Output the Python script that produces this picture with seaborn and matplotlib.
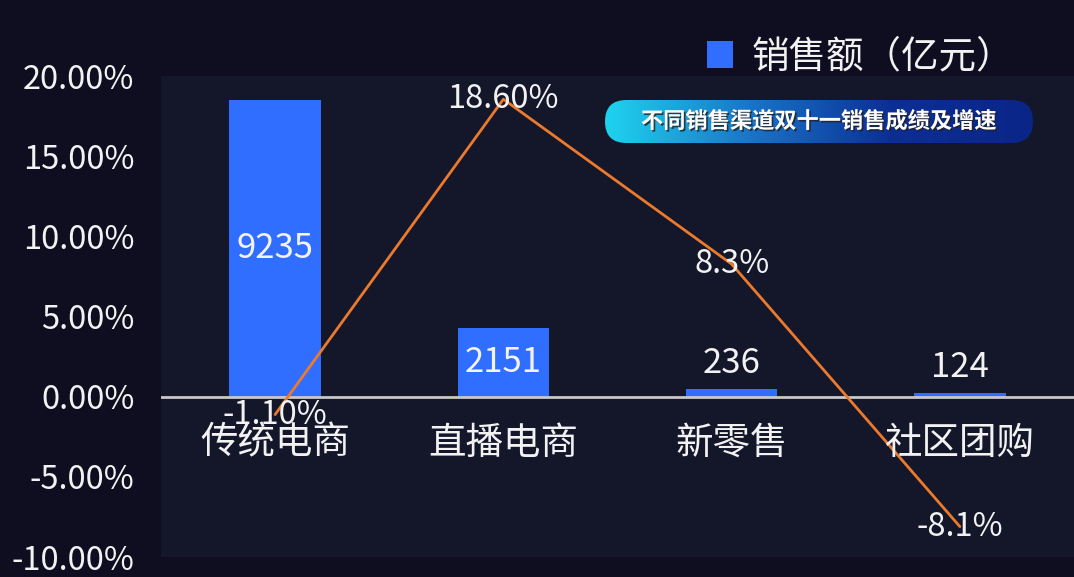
import numpy as np
import matplotlib
matplotlib.use("Agg")
import matplotlib.pyplot as plt
import matplotlib.patheffects as pe
from matplotlib.patches import FancyBboxPatch
from matplotlib.ticker import FuncFormatter
import seaborn as sns

# --- datos ---
canales = ["传统电商", "直播电商", "新零售", "社区团购"]
ventas = [9235, 2151, 236, 124]              # 销售额（亿元）
crecimiento = [-1.10, 18.60, 8.3, -8.1]      # 增速 %
etiquetas_crec = ["-1.10%", "18.60%", "8.3%", "-8.1%"]
ticks_izq = [-10, -5, 0, 5, 10, 15, 20]
titulo = "不同销售渠道双十一销售成绩及增速"
leyenda = "销售额（亿元）"

# --- colores ---
FONDO = "#0f0d20"
FONDO_AREA = "#14162a"
AZUL = "#306eff"
NARANJA = "#ec7a2c"
BLANCO = "#f2f2f2"

sns.set_style("dark")
plt.rcParams["font.family"] = ["Noto Sans CJK SC", "DejaVu Sans"]
plt.rcParams["axes.unicode_minus"] = False

W, H = 1074, 577
fig = plt.figure(figsize=(W / 100, H / 100), dpi=100, facecolor=FONDO)

# area del grafico (en pixeles de la imagen)
x0, x1, y_top, y_bot = 161, 1074, 76, 557
ax_bar = fig.add_axes([x0 / W, 1 - y_bot / H, (x1 - x0) / W, (y_bot - y_top) / H])
ax_bar.set_facecolor(FONDO_AREA)

ymin, ymax = -10, 20.05
k = 9235 / 18.56  # escala barras -> eje de porcentaje

sns.barplot(x=canales, y=ventas, ax=ax_bar, color=AZUL, width=0.4,
            saturation=1, errorbar=None, linewidth=0, edgecolor=AZUL)
ax_bar.set_ylim(ymin * k, ymax * k)
ax_bar.set_xlim(-0.5, 3.5)
ax_bar.set_yticks([])
ax_bar.set_xticks([])
ax_bar.set_xlabel("")
ax_bar.set_ylabel("")
ax_bar.grid(False)
for s in ax_bar.spines.values():
    s.set_visible(False)

# etiquetas de barras
for i, v in enumerate(ventas):
    if v > 0.15 * max(ventas):
        ax_bar.text(i, v / 2, f"{v}", ha="center", va="center",
                    color=BLANCO, fontsize=25)
    else:
        ax_bar.annotate(f"{v}", (i, v), xytext=(0, 6), textcoords="offset points",
                        ha="center", va="bottom", color=BLANCO, fontsize=25)

# linea de crecimiento
ax_lin = ax_bar.twinx()
sns.pointplot(x=canales, y=crecimiento, ax=ax_lin, color=NARANJA,
              markers="", linewidth=2, errorbar=None)
ax_lin.set_ylim(ymin, ymax)
ax_lin.set_xlim(-0.5, 3.5)
ax_lin.axhline(0, color="#c8c8c8", lw=2, zorder=1)
ax_lin.yaxis.tick_left()
ax_lin.set_yticks(ticks_izq)
ax_lin.yaxis.set_major_formatter(FuncFormatter(lambda v, p: f"{v:.2f}%"))
ax_lin.tick_params(axis="y", colors=BLANCO, labelsize=23.5, length=0, pad=19)
ax_lin.set_xticks([])
ax_lin.set_xlabel("")
ax_lin.set_ylabel("")
ax_lin.grid(False)
for s in ax_lin.spines.values():
    s.set_visible(False)

for i, (v, t) in enumerate(zip(crecimiento, etiquetas_crec)):
    ax_lin.text(i, v, t, ha="center", va="center", color=BLANCO, fontsize=23.5, zorder=5)

# nombres de categorias dentro del area
for i, c in enumerate(canales):
    ax_lin.text(i, -2.9, c, ha="center", va="center", color=BLANCO, fontsize=27, zorder=5)

# leyenda
fig.legend(handles=ax_bar.patches[:1], labels=[leyenda], loc="center left",
           bbox_to_anchor=(707 / W, 1 - 57 / H), frameon=False, fontsize=27,
           labelcolor=BLANCO, handlelength=0.7, handleheight=0.7, handletextpad=0.5,
           borderpad=0, borderaxespad=0)

# titulo en capsula con degradado
px0, px1, py0, py1 = 605, 1033, 100, 143
ax_t = fig.add_axes([px0 / W, 1 - py1 / H, (px1 - px0) / W, (py1 - py0) / H])
ax_t.set_xlim(0, px1 - px0)
ax_t.set_ylim(0, py1 - py0)
ax_t.axis("off")
grad = np.linspace(0, 1, 256).reshape(1, -1)
cmap = matplotlib.colors.LinearSegmentedColormap.from_list(
    "pill", ["#1fd3ef", "#1976c8", "#0c2f96", "#0a2588"])
img = ax_t.imshow(grad, extent=(0, px1 - px0, 0, py1 - py0), aspect="auto", cmap=cmap)
pill = FancyBboxPatch((0, 0), px1 - px0, py1 - py0,
                      boxstyle=f"round,pad=0,rounding_size={(py1 - py0) / 2}",
                      transform=ax_t.transData, facecolor="none", edgecolor="none")
ax_t.add_patch(pill)
img.set_clip_path(pill)
ax_t.text((px1 - px0) / 2, (py1 - py0) / 2, titulo, ha="center", va="center",
          color="white", fontsize=16, fontweight="bold",
          path_effects=[pe.withSimplePatchShadow(offset=(1.2, -1.2), shadow_rgbFace="#222222", alpha=0.8)])

fig.savefig("out.png", dpi=100, facecolor=FONDO)
